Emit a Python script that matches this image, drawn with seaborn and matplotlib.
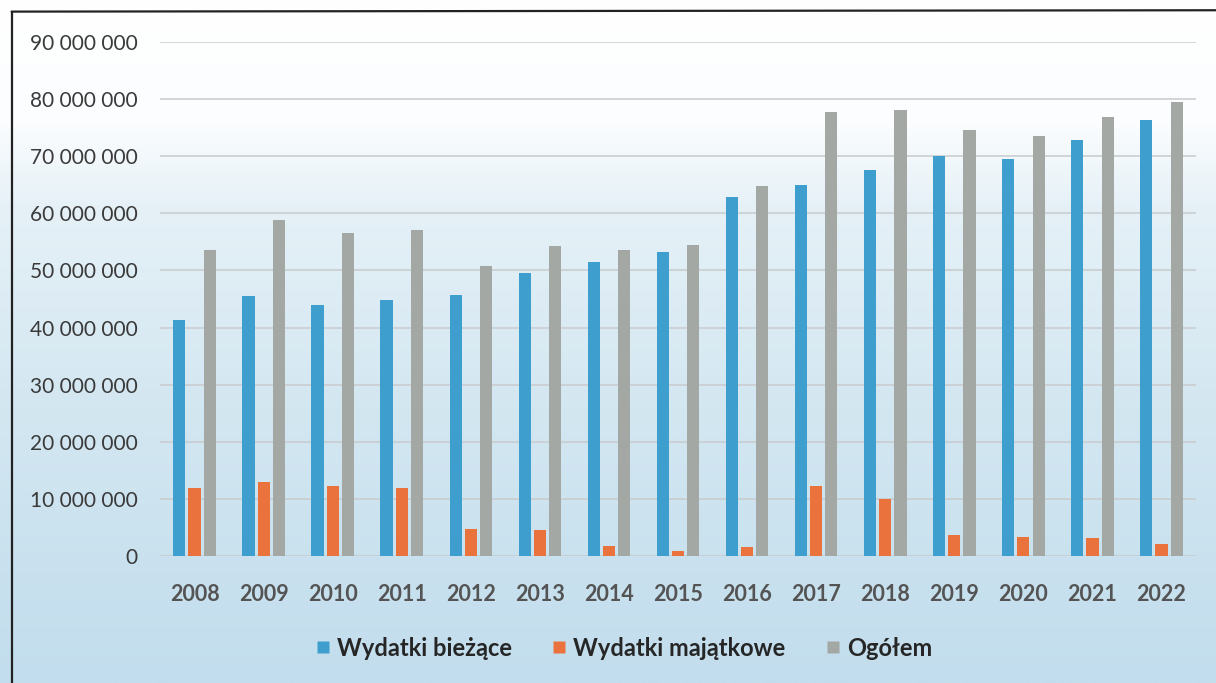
import numpy as np
import pandas as pd
import matplotlib
matplotlib.use('Agg')
import matplotlib.pyplot as plt
import seaborn as sns
from matplotlib.colors import LinearSegmentedColormap
from matplotlib.lines import Line2D
from matplotlib.ticker import FuncFormatter, MultipleLocator

# Data
years = [str(y) for y in range(2008, 2023)]
biezace = [41.3, 45.6, 43.9, 44.8, 45.7, 49.5, 51.4, 53.3, 62.8, 64.9,
           67.5, 70.0, 69.5, 72.8, 76.3]
majatkowe = [11.9, 13.0, 12.3, 11.9, 4.7, 4.5, 1.8, 0.8, 1.6, 12.3,
             9.9, 3.7, 3.3, 3.2, 2.1]
ogolem = [53.6, 58.8, 56.5, 57.1, 50.7, 54.3, 53.5, 54.5, 64.8, 77.7,
          78.0, 74.5, 73.6, 76.9, 79.4]
series_names = ['Wydatki bieżące', 'Wydatki majątkowe', 'Ogółem']
colors = ['#3e9fcf', '#ea733d', '#a4a8a5']

df = pd.DataFrame({
    'Rok': years * 3,
    'Seria': np.repeat(series_names, len(years)),
    'Wartosc': np.array(biezace + majatkowe + ogolem) * 1_000_000,
})

sns.set_theme(style='white')
plt.rcParams['font.family'] = ['Lato', 'DejaVu Sans']

fig = plt.figure(figsize=(12.16, 6.83), dpi=100)

# scanned background: white at top fading to pale blue
bg = fig.add_axes([0, 0, 1, 1], zorder=-5)
grad_cmap = LinearSegmentedColormap.from_list(
    'scan', [(0, '#ffffff'), (0.18, '#fbfdfe'), (0.3, '#e6f1f7'),
             (0.6, '#d3e7f1'), (1, '#c2dded')])
grad = np.linspace(0, 1, 256).reshape(-1, 1)
bg.imshow(grad, aspect='auto', cmap=grad_cmap, extent=[0, 1, 0, 1])
bg.axis('off')

ax = fig.add_axes([0.1316, 0.186, 0.852, 0.7526])
ax.set_facecolor('none')

sns.barplot(data=df, x='Rok', y='Wartosc', hue='Seria', hue_order=series_names,
            palette=colors, width=0.66, gap=0.2, saturation=1, ax=ax,
            edgecolor='none', zorder=3)

ax.set_ylim(0, 90_000_000)
ax.set_xlim(-0.5, len(years) - 0.5)
ax.yaxis.set_major_locator(MultipleLocator(10_000_000))
ax.yaxis.set_major_formatter(FuncFormatter(lambda v, p: f'{int(v):,}'.replace(',', ' ')))
ax.grid(axis='y', color='#c8cbcc', linewidth=1.1, zorder=0)
ax.set_axisbelow(True)
for s in ax.spines.values():
    s.set_visible(False)
ax.tick_params(axis='both', length=0)
ax.tick_params(axis='y', pad=16, labelsize=15, labelcolor='#3a3a3a')
ax.tick_params(axis='x', pad=20, labelsize=15.5, labelcolor='#545454')
for lbl in ax.get_xticklabels():
    lbl.set_fontweight('bold')
ax.set_xlabel('')
ax.set_ylabel('')

ax.get_legend().remove()
handles = [Line2D([], [], marker='s', linestyle='none', markersize=8,
                  markerfacecolor=c, markeredgecolor='none') for c in colors]
fig.legend(handles, series_names, loc='center', bbox_to_anchor=(0.513, 0.051),
           ncol=3, frameon=False, handlelength=0.6, handletextpad=0.3,
           columnspacing=1.7, prop={'weight': 'bold', 'size': 17})

# scan border lines
fig.add_artist(Line2D([0.0095, 0.0095], [0, 0.983], color='#222222', linewidth=1.6))
fig.add_artist(Line2D([0.0095, 1.0], [0.983, 0.985], color='#222222', linewidth=1.6))

fig.savefig('out.png', dpi=100)
